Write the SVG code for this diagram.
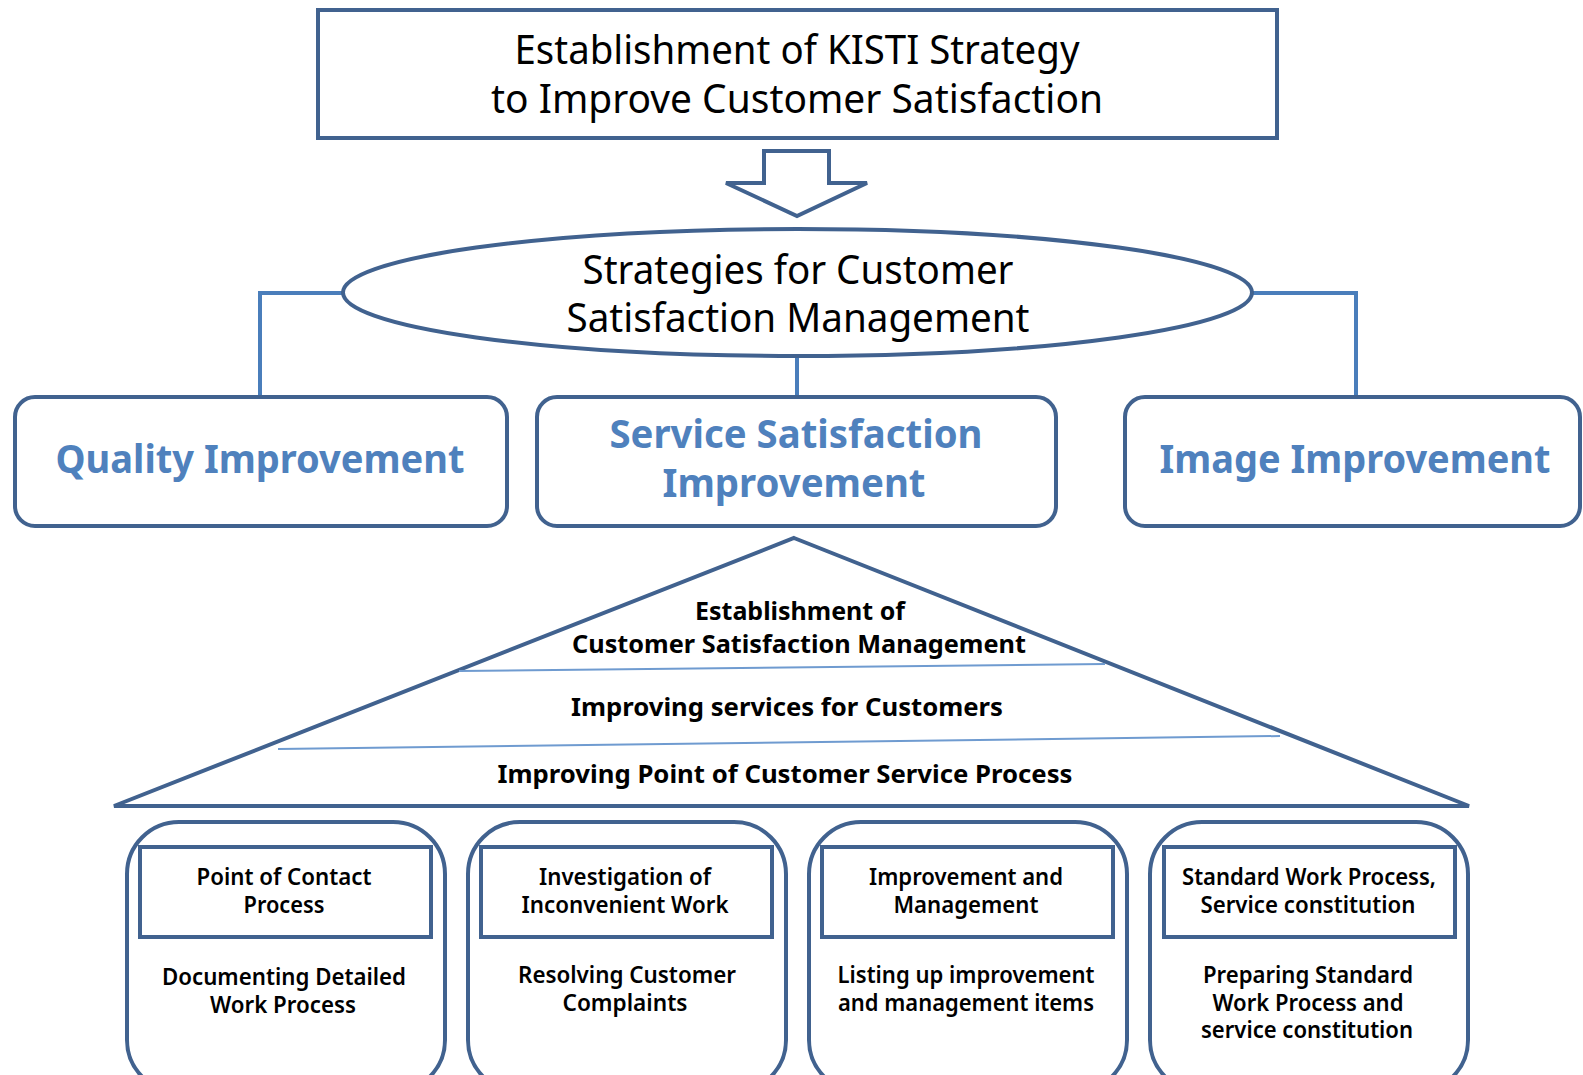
<svg xmlns="http://www.w3.org/2000/svg" width="1583" height="1075" viewBox="0 0 1583 1075">
  <style>
    .frame { fill: #ffffff; stroke: #41628f; stroke-width: 4; }
    .link { fill: none; stroke: #4a7ebb; stroke-width: 4; }
    .layer { fill: none; stroke: #6f9bd0; stroke-width: 2; }
    .title { font-family: "Noto Sans", "Open Sans", sans-serif; font-size: 40px; fill: #000000; text-anchor: middle; }
    .pillar { font-family: "Noto Sans", "Open Sans", sans-serif; font-size: 40px; font-weight: bold; fill: #4f81bd; text-anchor: middle; }
    .tier { font-family: "Noto Sans", "Open Sans", sans-serif; font-size: 25px; font-weight: bold; fill: #000000; text-anchor: middle; }
    .item { font-family: "Noto Sans", "Open Sans", sans-serif; font-size: 23px; font-weight: 600; fill: #000000; text-anchor: middle; }
  </style>

  <!-- connectors from the strategy ellipse to the three pillars -->
  <g id="connectors">
    <polyline class="link" points="343,293 260,293 260,397"/>
    <line class="link" x1="797" y1="356" x2="797" y2="397"/>
    <polyline class="link" points="1252,293 1356,293 1356,397"/>
  </g>

  <g id="kisti-strategy">
    <rect class="frame" x="318" y="10" width="959" height="128"/>
    <text class="title" x="797" y="64" textLength="565" lengthAdjust="spacingAndGlyphs">Establishment of KISTI Strategy</text>
    <text class="title" x="797" y="113" textLength="612" lengthAdjust="spacingAndGlyphs">to Improve Customer Satisfaction</text>
  </g>

  <g id="down-arrow">
    <polygon class="frame" points="764,151 829,151 829,183 867,183 797,216 726,183 764,183"/>
  </g>

  <g id="strategies">
    <ellipse class="frame" cx="797.5" cy="292.5" rx="454.5" ry="63.5"/>
    <text class="title" x="798" y="284" textLength="431" lengthAdjust="spacingAndGlyphs">Strategies for Customer</text>
    <text class="title" x="798" y="332" textLength="463" lengthAdjust="spacingAndGlyphs">Satisfaction Management</text>
  </g>

  <g id="quality-improvement">
    <rect class="frame" x="15" y="397" width="492" height="129" rx="20"/>
    <text class="pillar" x="260" y="473" textLength="409" lengthAdjust="spacingAndGlyphs">Quality Improvement</text>
  </g>

  <g id="service-satisfaction-improvement">
    <rect class="frame" x="537" y="397" width="519" height="129" rx="20"/>
    <text class="pillar" x="796" y="448" textLength="373" lengthAdjust="spacingAndGlyphs">Service Satisfaction</text>
    <text class="pillar" x="794" y="497" textLength="263" lengthAdjust="spacingAndGlyphs">Improvement</text>
  </g>

  <g id="image-improvement">
    <rect class="frame" x="1125" y="397" width="455" height="129" rx="20"/>
    <text class="pillar" x="1355" y="473" textLength="391" lengthAdjust="spacingAndGlyphs">Image Improvement</text>
  </g>

  <g id="pyramid">
    <polygon class="frame" points="794,538 1469,806 114,806" stroke-width="5" stroke-linejoin="miter"/>
    <line class="layer" x1="459" y1="671" x2="1105" y2="664"/>
    <line class="layer" x1="278" y1="749" x2="1280" y2="736"/>
    <text class="tier" x="800" y="620" textLength="210" lengthAdjust="spacingAndGlyphs">Establishment of</text>
    <text class="tier" x="799" y="653" textLength="454" lengthAdjust="spacingAndGlyphs">Customer Satisfaction Management</text>
    <text class="tier" x="787" y="716" textLength="432" lengthAdjust="spacingAndGlyphs">Improving services for Customers</text>
    <text class="tier" x="785" y="783" textLength="575" lengthAdjust="spacingAndGlyphs">Improving Point of Customer Service Process</text>
  </g>

  <g id="point-of-contact">
    <rect class="frame" x="127" y="822" width="318" height="270" rx="52"/>
    <rect class="frame" x="140" y="847" width="291" height="90"/>
    <text class="item" x="284" y="885" textLength="175" lengthAdjust="spacingAndGlyphs">Point of Contact</text>
    <text class="item" x="284" y="913" textLength="81" lengthAdjust="spacingAndGlyphs">Process</text>
    <text class="item" x="284" y="985" textLength="244" lengthAdjust="spacingAndGlyphs">Documenting Detailed</text>
    <text class="item" x="283" y="1013" textLength="146" lengthAdjust="spacingAndGlyphs">Work Process</text>
  </g>

  <g id="inconvenient-work">
    <rect class="frame" x="468" y="822" width="318" height="270" rx="52"/>
    <rect class="frame" x="481" y="847" width="291" height="90"/>
    <text class="item" x="625" y="885" textLength="172" lengthAdjust="spacingAndGlyphs">Investigation of</text>
    <text class="item" x="625" y="913" textLength="207" lengthAdjust="spacingAndGlyphs">Inconvenient Work</text>
    <text class="item" x="627" y="983" textLength="218" lengthAdjust="spacingAndGlyphs">Resolving Customer</text>
    <text class="item" x="625" y="1011" textLength="125" lengthAdjust="spacingAndGlyphs">Complaints</text>
  </g>

  <g id="improvement-management">
    <rect class="frame" x="809" y="822" width="318" height="270" rx="52"/>
    <rect class="frame" x="822" y="847" width="291" height="90"/>
    <text class="item" x="966" y="885" textLength="194" lengthAdjust="spacingAndGlyphs">Improvement and</text>
    <text class="item" x="966" y="913" textLength="145" lengthAdjust="spacingAndGlyphs">Management</text>
    <text class="item" x="966" y="983" textLength="257" lengthAdjust="spacingAndGlyphs">Listing up improvement</text>
    <text class="item" x="966" y="1011" textLength="256" lengthAdjust="spacingAndGlyphs">and management items</text>
  </g>

  <g id="standard-work-process">
    <rect class="frame" x="1150" y="822" width="318" height="270" rx="52"/>
    <rect class="frame" x="1164" y="847" width="291" height="90"/>
    <text class="item" x="1309" y="885" textLength="254" lengthAdjust="spacingAndGlyphs">Standard Work Process,</text>
    <text class="item" x="1308" y="913" textLength="215" lengthAdjust="spacingAndGlyphs">Service constitution</text>
    <text class="item" x="1308" y="983" textLength="210" lengthAdjust="spacingAndGlyphs">Preparing Standard</text>
    <text class="item" x="1308" y="1011" textLength="191" lengthAdjust="spacingAndGlyphs">Work Process and</text>
    <text class="item" x="1307" y="1038" textLength="212" lengthAdjust="spacingAndGlyphs">service constitution</text>
  </g>
</svg>
